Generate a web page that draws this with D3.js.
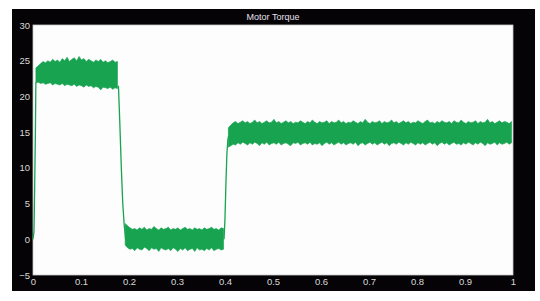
<!DOCTYPE html>
<html lang="en">
<head>
<meta charset="UTF-8">
<title>Motor Torque</title>
<script src="https://d3js.org/d3.v7.min.js"></script>
<style>
  body { margin: 0; background: #fff; }
  text { font-family: "Liberation Sans", Arial, sans-serif; }
</style>
</head>
<body>
<div id="chart"></div>
<script>
var title = "Motor Torque";
var xTicks = [0, 0.1, 0.2, 0.3, 0.4, 0.5, 0.6, 0.7, 0.8, 0.9, 1];
var xTickLabels = ["0", "0.1", "0.2", "0.3", "0.4", "0.5", "0.6", "0.7", "0.8", "0.9", "1"];
var yTicks = [-5, 0, 5, 10, 15, 20, 25, 30];

// sampling of the noise bands (seconds)
var bandStep = 0.005;

// band 1: full load after start-up
var band1Start = 0.006;
var band1Upper = [24.0, 24.3, 24.6, 24.9, 24.7, 25.0, 24.8, 25.2, 24.9, 25.1, 24.8, 25.3, 25.0, 25.5, 24.9, 25.2, 25.4, 25.0, 25.6, 25.1, 25.3, 24.9, 25.2, 25.0, 24.8, 25.1, 24.9, 25.2, 24.8, 25.0, 24.7, 24.9, 25.1, 24.8, 24.9];
var band1Lower = [21.9, 22.0, 21.8, 21.9, 21.7, 21.8, 21.9, 21.6, 21.8, 21.7, 21.6, 21.8, 21.5, 21.7, 21.6, 21.5, 21.7, 21.4, 21.6, 21.5, 21.3, 21.6, 21.4, 21.5, 21.2, 21.4, 21.3, 20.9, 21.3, 21.2, 21.1, 21.3, 21.0, 21.2, 21.1];

// band 2: no load
var band2Start = 0.192;
var band2Upper = [2.2, 1.9, 1.6, 1.4, 1.5, 1.3, 1.6, 1.4, 1.7, 1.3, 1.5, 1.4, 1.8, 1.5, 1.3, 1.6, 1.4, 1.5, 1.7, 1.3, 1.5, 1.4, 1.6, 1.3, 1.5, 1.7, 1.4, 1.5, 1.3, 1.6, 1.4, 1.5, 1.3, 1.6, 1.4, 1.5, 1.7, 1.4, 1.5, 1.3, 1.6, 1.5];
var band2Lower = [-0.8, -1.2, -1.4, -1.3, -1.6, -1.2, -1.4, -1.5, -1.1, -1.3, -1.6, -1.2, -1.4, -1.3, -1.7, -1.2, -1.4, -1.5, -1.3, -1.6, -1.2, -1.4, -1.7, -1.3, -1.5, -1.2, -1.6, -1.4, -1.3, -1.7, -1.2, -1.5, -1.4, -1.6, -1.3, -1.5, -1.2, -1.6, -1.4, -1.3, -1.5, -1.4];

// band 3: partial load
var band3Start = 0.407;
var band3Upper = [15.6, 16.0, 16.3, 16.5, 16.2, 16.4, 16.6, 16.3, 16.5, 16.2,
  16.4, 16.7, 16.3, 16.5, 16.2, 16.4, 16.6, 16.3, 16.4, 16.8,
  16.3, 16.5, 16.2, 16.4, 16.6, 16.3, 16.5, 16.2, 16.4, 16.3,
  16.6, 16.4, 16.2, 16.5, 16.3, 16.7, 16.4, 16.2, 16.5, 16.3,
  16.4, 16.6, 16.2, 16.5, 16.3, 16.4, 16.7, 16.3, 16.5, 16.2,
  16.4, 16.3, 16.6, 16.4, 16.2, 16.5, 16.3, 16.8, 16.4, 16.2,
  16.5, 16.3, 16.4, 16.6, 16.2, 16.5, 16.3, 16.4, 16.7, 16.3,
  16.5, 16.2, 16.4, 16.6, 16.3, 16.5, 16.2, 16.4, 16.3, 16.6,
  16.4, 16.2, 16.5, 16.7, 16.3, 16.4, 16.2, 16.5, 16.3, 16.6,
  16.4, 16.3, 16.5, 16.2, 16.6, 16.4, 16.3, 16.7, 16.4, 16.2,
  16.5, 16.3, 16.4, 16.6, 16.2, 16.5, 16.3, 16.4, 16.8, 16.3,
  16.5, 16.2, 16.4, 16.6, 16.3, 16.5, 16.4, 16.2, 16.5];
var band3Lower = [12.9, 13.1, 13.3, 13.2, 13.5, 13.3, 13.6, 13.4, 13.2, 13.5,
  13.3, 13.6, 13.4, 13.1, 13.5, 13.3, 13.6, 13.2, 13.4, 13.5,
  13.3, 13.6, 13.2, 13.4, 13.5, 13.3, 13.1, 13.5, 13.4, 13.6,
  13.2, 13.4, 13.5, 13.3, 13.6, 13.2, 13.4, 13.3, 13.5, 13.1,
  13.4, 13.6, 13.3, 13.5, 13.2, 13.4, 13.6, 13.3, 13.5, 13.2,
  13.4, 13.5, 13.3, 13.6, 13.1, 13.4, 13.5, 13.2, 13.4, 13.6,
  13.3, 13.5, 13.2, 13.4, 13.6, 13.3, 13.5, 13.1, 13.4, 13.5,
  13.3, 13.6, 13.4, 13.2, 13.5, 13.3, 13.6, 13.4, 13.2, 13.5,
  13.3, 13.5, 13.2, 13.4, 13.6, 13.3, 13.5, 13.1, 13.4, 13.6,
  13.3, 13.5, 13.2, 13.4, 13.6, 13.3, 13.4, 13.2, 13.5, 13.3,
  13.6, 13.4, 13.2, 13.5, 13.3, 13.6, 13.4, 13.1, 13.5, 13.3,
  13.4, 13.6, 13.2, 13.5, 13.3, 13.4, 13.6, 13.3, 13.5];

// thin transition traces [time, torque]
var startUp = [[0, 0], [0.002, 1], [0.003, 5], [0.005, 15], [0.006, 22]];
var loadOff = [[0.178, 21.5], [0.181, 16], [0.184, 10], [0.187, 5], [0.190, 2], [0.193, 0]];
var loadOn = [[0.398, 0], [0.400, 3], [0.402, 8], [0.404, 12], [0.406, 14], [0.408, 14.5]];

var W = 540, H = 301;
var frame = { left: 12, top: 9, right: 535, bottom: 291 };
var plot = { left: 33, top: 25, right: 513, bottom: 275 };
var green = "#17a350";

var svg = d3.select("#chart").append("svg")
  .attr("width", W).attr("height", H);

svg.append("rect")
  .attr("x", frame.left).attr("y", frame.top)
  .attr("width", frame.right - frame.left).attr("height", frame.bottom - frame.top)
  .attr("fill", "#050305");

svg.append("rect")
  .attr("x", plot.left).attr("y", plot.top)
  .attr("width", plot.right - plot.left).attr("height", plot.bottom - plot.top)
  .attr("fill", "#fdfdfd")
  .attr("stroke", "#c8c8c8").attr("stroke-width", 0.8);

var x = d3.scaleLinear().domain([0, 1]).range([plot.left, plot.right]);
var y = d3.scaleLinear().domain([-5, 30]).range([plot.bottom, plot.top]);

svg.append("text")
  .attr("x", (plot.left + plot.right) / 2).attr("y", 20)
  .attr("text-anchor", "middle")
  .attr("fill", "#e6e0ee")
  .attr("font-size", 9)
  .text(title);

svg.append("g")
  .attr("transform", "translate(" + (plot.left - 2) + ",0)")
  .call(d3.axisLeft(y).tickValues(yTicks).tickSize(0).tickPadding(1))
  .call(g => g.select(".domain").remove())
  .call(g => g.selectAll("text").attr("fill", "#d8d8d8").attr("font-size", 9.5)
    .attr("font-family", "Liberation Sans, Arial, sans-serif"));

svg.append("g")
  .attr("transform", "translate(0," + (plot.bottom + 2) + ")")
  .call(d3.axisBottom(x).tickValues(xTicks).tickSize(0).tickPadding(1)
    .tickFormat((d, i) => xTickLabels[i]))
  .call(g => g.select(".domain").remove())
  .call(g => g.selectAll("text").attr("fill", "#d8d8d8").attr("font-size", 9.5)
    .attr("font-family", "Liberation Sans, Arial, sans-serif"));

function bandRows(start, upper, lower) {
  return upper.map((u, i) => ({ t: start + i * bandStep, hi: u, lo: lower[i] }));
}

var bands = [
  bandRows(band1Start, band1Upper, band1Lower),
  bandRows(band2Start, band2Upper, band2Lower),
  bandRows(band3Start, band3Upper, band3Lower)
];

var area = d3.area()
  .curve(d3.curveLinear)
  .x(d => x(d.t))
  .y0(d => y(d.lo))
  .y1(d => y(d.hi));

svg.append("g").selectAll("path")
  .data(bands)
  .join("path")
  .attr("d", area)
  .attr("fill", green)
  .attr("stroke", green)
  .attr("stroke-width", 0.6);

var line = d3.line()
  .x(d => x(d[0]))
  .y(d => y(d[1]));

svg.append("g").selectAll("path")
  .data([startUp, loadOff, loadOn])
  .join("path")
  .attr("d", line)
  .attr("fill", "none")
  .attr("stroke", green)
  .attr("stroke-width", 1.3);
</script>
</body>
</html>
